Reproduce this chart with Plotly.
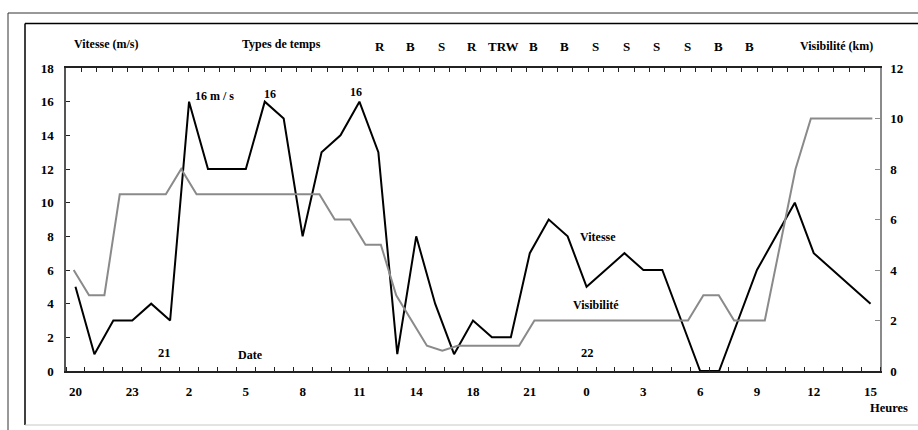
import plotly.graph_objects as go

# ---- data ----
# wind speed (m/s), one value per hour, from 20h (day 20) to 15h (day 22)
vitesse = [5, 1, 3, 3, 4, 3, 16, 12, 12, 12, 16, 15, 8, 13, 14, 16, 13, 1, 8, 4,
           1, 3, 2, 2, 7, 9, 8, 5, 6, 7, 6, 6, 3, 0, 0, 3, 6, 8, 10, 7, 6, 5, 4]
# visibility (km), 53 observations on the secondary (top) category axis
visibilite = [4, 3, 3, 7, 7, 7, 7, 8, 7, 7, 7, 7, 7, 7, 7, 7, 7, 6, 6, 5, 5, 3, 2, 1,
              0.8, 1, 1, 1, 1, 1, 2, 2, 2, 2, 2, 2, 2, 2, 2, 2, 2, 3, 3, 2, 2, 2, 5, 8,
              10, 10, 10, 10, 10]
hour_labels = ["20", "23", "2", "5", "8", "11", "14", "18", "21", "0", "3", "6", "9", "12", "15"]
weather_types = ["R", "B", "S", "R", "TRW", "B", "B", "S", "S", "S", "S", "B", "B"]
speed_peaks = ["16 m / s", "16", "16"]

W, H = 918, 430
L, R, T, B = 66, 880, 68, 371   # plot area in pixels


def px(x):
    return (x - L) / (R - L)


def py(y):
    return (B - y) / (B - T)


FONT = "Liberation Serif"
DARK = "#222222"
GREY = "#8a8a8a"

fig = go.Figure()
fig.add_trace(go.Scatter(x=list(range(len(vitesse))), y=vitesse, mode="lines",
                         line=dict(color="#000000", width=2), xaxis="x", yaxis="y",
                         name="Vitesse", showlegend=False))
fig.add_trace(go.Scatter(x=list(range(len(visibilite))), y=visibilite, mode="lines",
                         line=dict(color=GREY, width=2), xaxis="x2", yaxis="y2",
                         name="Visibilité", showlegend=False))

n1 = len(vitesse)
n2 = len(visibilite)
tickfont = dict(family=FONT, size=13, color="#000000", weight="bold")

fig.update_layout(
    width=W, height=H,
    margin=dict(l=L, r=W - R, t=T, b=H - B, pad=0),
    paper_bgcolor="white", plot_bgcolor="white",
    showlegend=False,
    xaxis=dict(range=[-0.5, n1 - 0.5], tickmode="array",
               tickvals=list(range(0, n1, 3)), ticktext=hour_labels,
               ticks="", showgrid=False, zeroline=False,
               showline=True, linecolor=DARK, linewidth=1.5,
               tickfont=tickfont, ticklabelstandoff=8,
               minor=dict(tickmode="linear", tick0=-0.5, dtick=1, ticks="inside",
                          ticklen=4, tickwidth=1.2, tickcolor=DARK, showgrid=False)),
    xaxis2=dict(range=[-0.5, n2 - 0.5], overlaying="x", side="top", anchor="y",
                tickmode="linear", tick0=-0.5, dtick=1, ticks="inside", ticklen=4,
                tickwidth=1.2, tickcolor=DARK, showticklabels=False, showgrid=False,
                zeroline=False, showline=True, linecolor=DARK, linewidth=1.5),
    yaxis=dict(range=[0, 18], tickmode="linear", tick0=0, dtick=2, ticks="inside",
               ticklen=4, tickwidth=1.2, tickcolor=DARK, showgrid=False, zeroline=False,
               showline=True, linecolor="#555555", linewidth=1.5,
               tickfont=tickfont, ticklabelstandoff=8),
    yaxis2=dict(range=[0, 12], tickmode="linear", tick0=0, dtick=2, ticks="inside",
                ticklen=5, tickwidth=1.2, tickcolor=GREY, overlaying="y", side="right",
                anchor="x", showgrid=False, zeroline=False, showline=True,
                linecolor=GREY, linewidth=1.5, tickfont=tickfont, ticklabelstandoff=6),
)

# frames around the chart (cropped at the right)
shapes = [
    dict(type="line", xref="paper", yref="paper", x0=px(8), x1=px(930), y0=py(13), y1=py(13),
         line=dict(color="#333333", width=1)),
    dict(type="line", xref="paper", yref="paper", x0=px(8), x1=px(8), y0=py(13), y1=py(440),
         line=dict(color="#333333", width=1)),
    dict(type="line", xref="paper", yref="paper", x0=px(25), x1=px(930), y0=py(23.5), y1=py(23.5),
         line=dict(color="#000000", width=1.5)),
    dict(type="line", xref="paper", yref="paper", x0=px(25), x1=px(25), y0=py(23.5), y1=py(425),
         line=dict(color="#000000", width=1.5)),
    dict(type="line", xref="paper", yref="paper", x0=px(25), x1=px(930), y0=py(425), y1=py(425),
         line=dict(color="#c8c8c8", width=1)),
]
fig.update_layout(shapes=shapes)

ann = []


def text(t, x, y, size=12, xanchor="center"):
    ann.append(dict(text=t, xref="paper", yref="paper", x=px(x), y=py(y),
                    xanchor=xanchor, yanchor="middle", showarrow=False,
                    font=dict(family=FONT, size=size, color="#000000", weight="bold")))


text("Vitesse (m/s)", 72, 44, xanchor="left")
text("Types de temps", 240, 44, xanchor="left")
text("Visibilité (km)", 798, 46, xanchor="left")
for k, w in enumerate(weather_types):
    text(w, 380 + k * 30.75, 46, size=13)
text(speed_peaks[0], 193, 96, xanchor="left")
text(speed_peaks[1], 270, 94)
text(speed_peaks[2], 356, 92)
text("Vitesse", 598, 237)
text("Visibilité", 596, 305)
text("21", 164, 353, size=12.5)
text("Date", 250, 355)
text("22", 587, 353, size=12.5)
text("Heures", 889, 408, size=12.5)
fig.update_layout(annotations=ann)

fig.write_html("out.html", config={"displayModeBar": False},
               post_script="document.body.style.margin='0';document.body.style.overflow='hidden';")
